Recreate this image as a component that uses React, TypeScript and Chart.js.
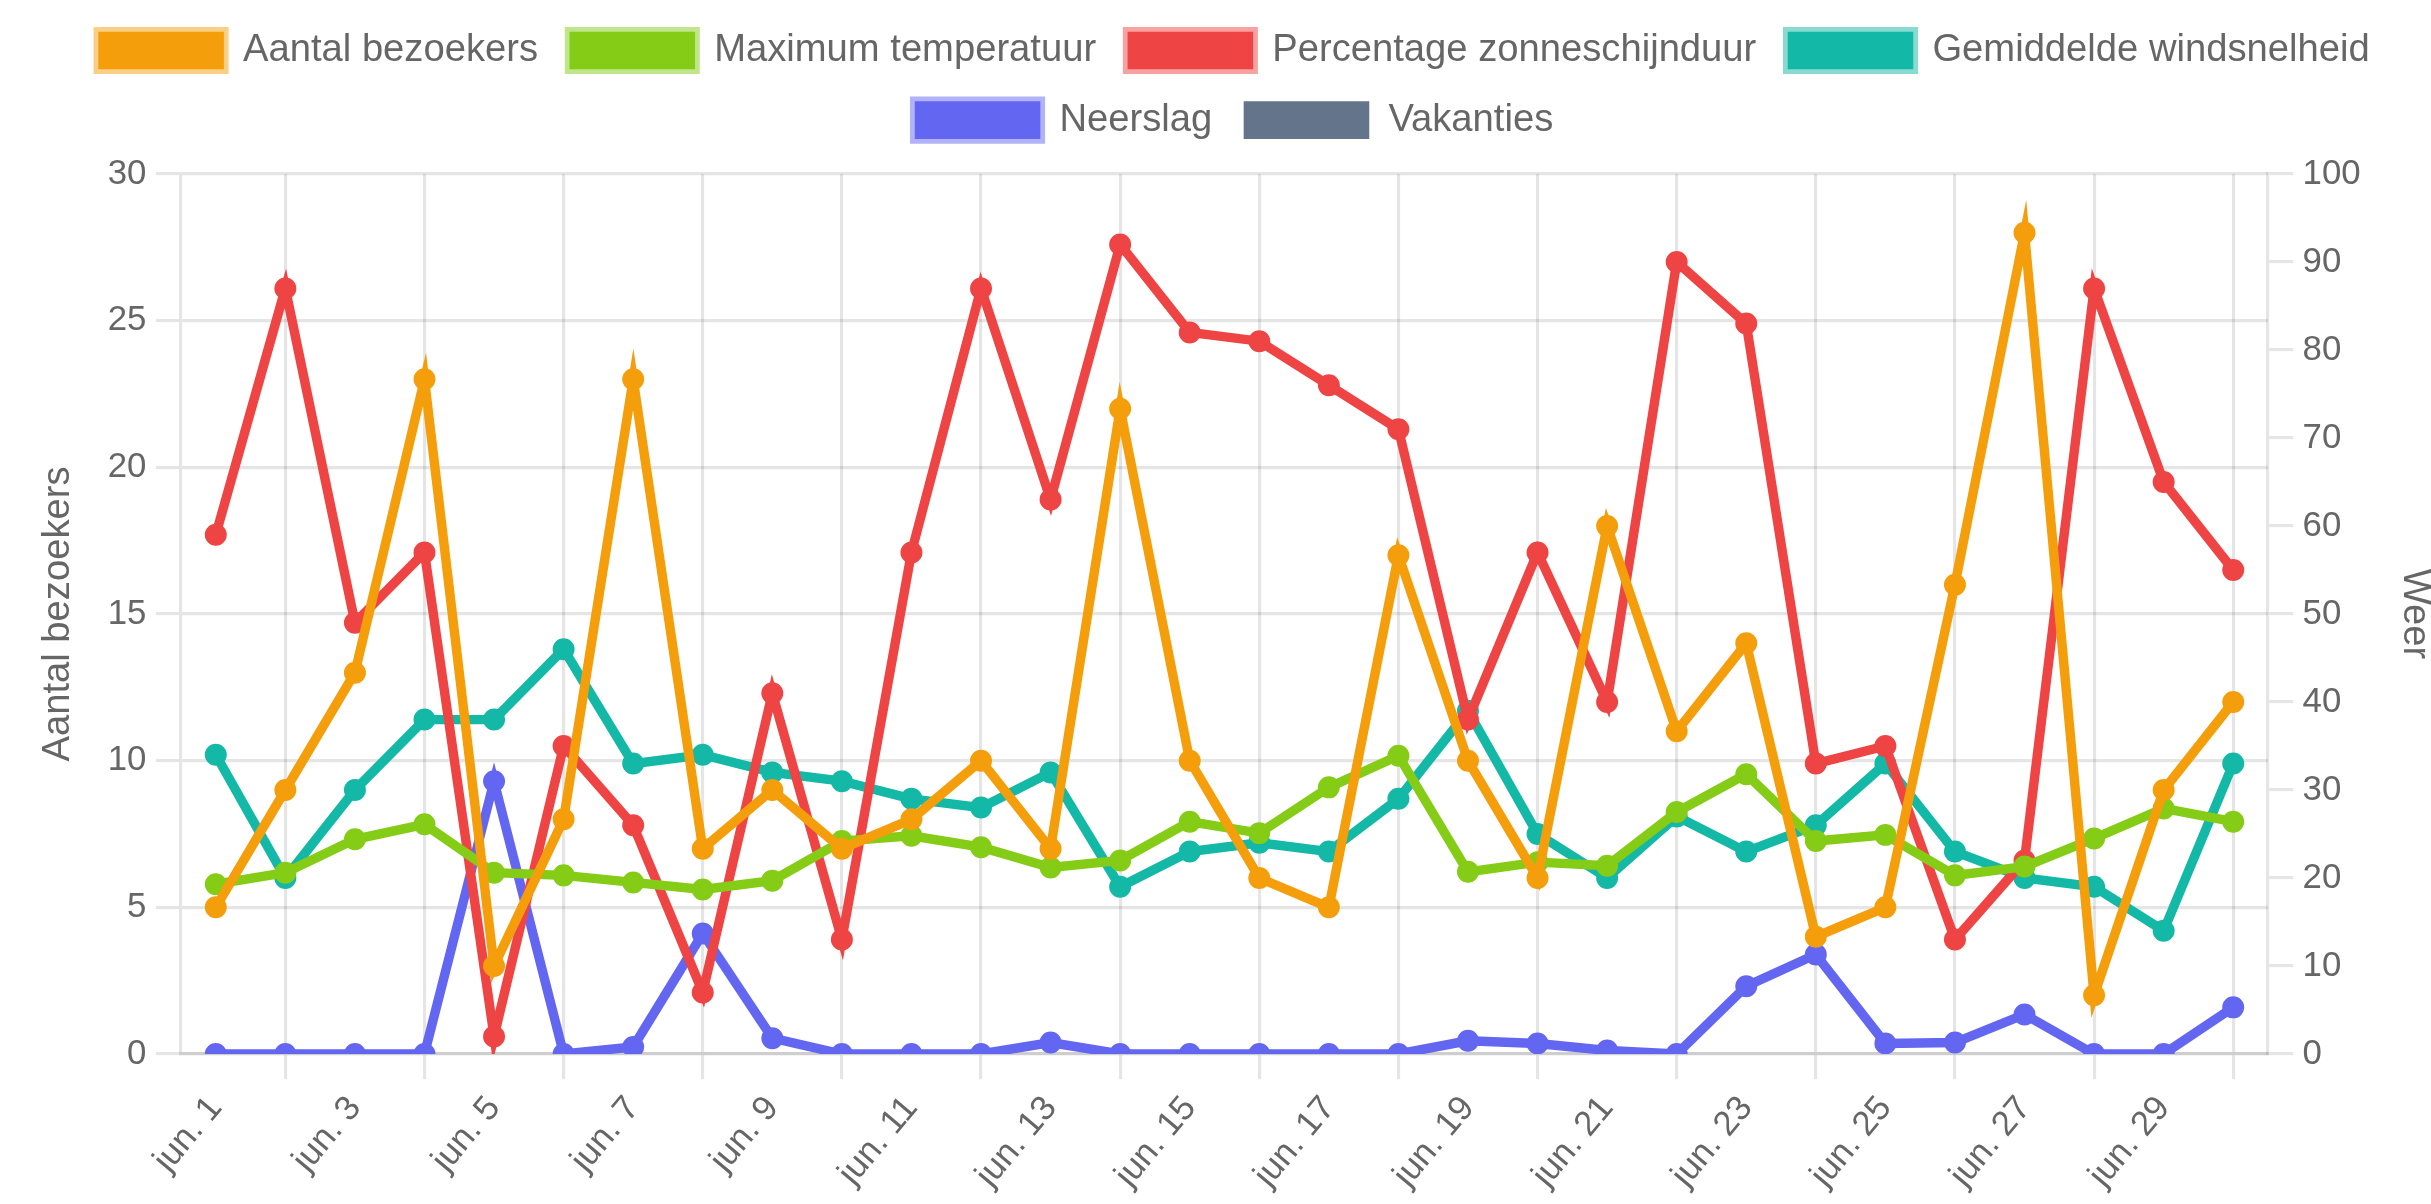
import React, { useEffect, useRef } from 'react';
import { Chart, registerables } from 'chart.js';

Chart.register(...registerables);

const categories = [
  'jun. 1', 'jun. 2', 'jun. 3', 'jun. 4', 'jun. 5', 'jun. 6', 'jun. 7', 'jun. 8', 'jun. 9', 'jun. 10',
  'jun. 11', 'jun. 12', 'jun. 13', 'jun. 14', 'jun. 15', 'jun. 16', 'jun. 17', 'jun. 18', 'jun. 19', 'jun. 20',
  'jun. 21', 'jun. 22', 'jun. 23', 'jun. 24', 'jun. 25', 'jun. 26', 'jun. 27', 'jun. 28', 'jun. 29', 'jun. 30',
];

const bezoekers = [5, 9, 13, 23, 3, 8, 23, 7, 9, 7, 8, 10, 7, 22, 10, 6, 5, 17, 10, 6, 18, 11, 14, 4, 5, 16, 28, 2, 9, 12];
const temperatuur = [19.3, 20.6, 24.4, 26.1, 20.6, 20.3, 19.5, 18.7, 19.7, 24.2, 24.8, 23.5, 21.2, 22.0, 26.4, 25.1, 30.3, 33.9, 20.7, 21.8, 21.4, 27.5, 31.8, 24.2, 24.9, 20.3, 21.3, 24.5, 27.9, 26.4];
const zonneschijn = [59, 87, 49, 57, 2, 35, 26, 7, 41, 13, 57, 87, 63, 92, 82, 81, 76, 71, 38, 57, 40, 90, 83, 33, 35, 13, 22, 87, 65, 55];
const windsnelheid = [34, 20, 30, 38, 38, 46, 33, 34, 32, 31, 29, 28, 32, 19, 23, 24, 23, 29, 39, 25, 20, 27, 23, 26, 33, 23, 20, 19, 14, 33];
const neerslag = [0, 0, 0, 0, 31, 0, 0.8, 13.7, 1.8, 0, 0, 0, 1.3, 0, 0, 0, 0, 0, 1.5, 1.2, 0.4, 0, 7.7, 11.3, 1.2, 1.3, 4.5, 0, 0, 5.3];
const vakanties = [0, 0, 0, 0, 0, 0, 0, 0, 0, 0, 0, 0, 0, 0, 0, 0, 0, 0, 0, 0, 0, 0, 0, 0, 0, 0, 0, 0, 0, 0];

const leftTicksMax = 30;
const rightTicksMax = 100;

const S = 3.14;
const BIG = 38.2;
const SMALL = 34.8;
const FAMILY = "'Liberation Sans', Arial, Helvetica, sans-serif";
const TEXT = '#666';
const GRID = 'rgba(0,0,0,0.1)';

const COLORS = {
  orange: '#f59e0b',
  green: '#84cc16',
  red: '#ef4444',
  teal: '#14b8a6',
  blue: '#6366f1',
  slate: '#64748b',
};
const RING = [
  'rgba(245,158,11,0.5)',
  'rgba(132,204,22,0.5)',
  'rgba(239,68,68,0.5)',
  'rgba(20,184,166,0.5)',
  'rgba(99,102,241,0.5)',
  'rgba(100,116,139,0)',
];

function lineSet(label: string, data: number[], color: string, axis: string) {
  return {
    type: 'line' as const,
    label,
    data,
    yAxisID: axis,
    borderColor: color,
    backgroundColor: color,
    pointBackgroundColor: color,
    pointBorderColor: color,
    borderWidth: 3 * S,
    pointRadius: 3 * S,
    pointBorderWidth: S,
    tension: 0,
    fill: false,
  };
}

const legendHeightPlugin = {
  id: 'legendHeightFix',
  beforeInit(chart: any) {
    const lg = chart.legend;
    if (lg) {
      const orig = lg.fit;
      lg.fit = function () {
        orig.call(this);
        this.height = 174;
      };
    }
  },
};

export default function App() {
  const ref = useRef<HTMLCanvasElement | null>(null);

  useEffect(() => {
    if (!ref.current) return;
    Chart.defaults.font.family = FAMILY;
    Chart.defaults.color = TEXT;
    const chart = new Chart(ref.current, {
      type: 'bar',
      data: {
        labels: categories,
        datasets: [
          lineSet('Aantal bezoekers', bezoekers, COLORS.orange, 'y'),
          lineSet('Maximum temperatuur', temperatuur, COLORS.green, 'y1'),
          lineSet('Percentage zonneschijnduur', zonneschijn, COLORS.red, 'y1'),
          lineSet('Gemiddelde windsnelheid', windsnelheid, COLORS.teal, 'y1'),
          lineSet('Neerslag', neerslag, COLORS.blue, 'y1'),
          {
            type: 'bar' as const,
            label: 'Vakanties',
            data: vakanties,
            yAxisID: 'y',
            backgroundColor: COLORS.slate,
            borderColor: COLORS.slate,
            borderWidth: 0,
            inflateAmount: 0,
          } as any,
        ] as any,
      },
      options: {
        responsive: false,
        animation: false,
        devicePixelRatio: 1,
        events: [],
        layout: { padding: { left: 23, right: -14, top: 0, bottom: 0 } },
        plugins: {
          legend: {
            position: 'top',
            labels: {
              font: { size: BIG, family: FAMILY },
              color: TEXT,
              boxWidth: 40 * S,
              boxHeight: 12 * S,
              padding: 10 * S,
              generateLabels: (chart: any) => {
                const items = (Chart.defaults.plugins.legend.labels as any).generateLabels(chart);
                return items.map((it: any, i: number) => ({
                  ...it,
                  strokeStyle: RING[i],
                  lineWidth: i === 5 ? 0 : 3 * S,
                }));
              },
            },
          },
          tooltip: { enabled: false },
        },
        scales: {
          x: {
            grid: { color: GRID, lineWidth: S, tickLength: 8 * S },
            border: { color: GRID, width: S },
            ticks: {
              font: { size: SMALL, family: FAMILY },
              color: TEXT,
              padding: 3 * S,
              minRotation: 50,
              maxRotation: 50,
              autoSkip: true,
              maxTicksLimit: 16,
            },
            afterFit: (s: any) => {
              s.height = 150;
            },
          },
          y: {
            position: 'left',
            min: 0,
            max: leftTicksMax,
            ticks: {
              stepSize: 5,
              font: { size: SMALL, family: FAMILY },
              color: TEXT,
              padding: 3 * S,
            },
            grid: { color: GRID, lineWidth: S, tickLength: 8 * S },
            border: { color: GRID, width: S },
            title: {
              display: true,
              text: 'Aantal bezoekers',
              font: { size: BIG, family: FAMILY },
              color: TEXT,
              padding: { top: 4 * S, bottom: 4 * S },
            },
            afterFit: (s: any) => {
              s.width = 158;
            },
          },
          y1: {
            position: 'right',
            min: 0,
            max: rightTicksMax,
            ticks: {
              stepSize: 10,
              font: { size: SMALL, family: FAMILY },
              color: TEXT,
              padding: 3 * S,
            },
            grid: { drawOnChartArea: false, color: GRID, lineWidth: S, tickLength: 8 * S },
            border: { color: GRID, width: S },
            title: {
              display: true,
              text: 'Weer',
              font: { size: BIG, family: FAMILY },
              color: TEXT,
              padding: { top: 8, bottom: 4 * S },
            },
            afterFit: (s: any) => {
              s.width = 177;
            },
          },
        },
      } as any,
      plugins: [legendHeightPlugin],
    });
    return () => chart.destroy();
  }, []);

  return (
    <div style={{ position: 'absolute', left: 0, top: 0, width: 2431, height: 1204, overflow: 'hidden' }}>
      <canvas ref={ref} width={2431} height={1204} style={{ display: 'block' }} />
    </div>
  );
}
